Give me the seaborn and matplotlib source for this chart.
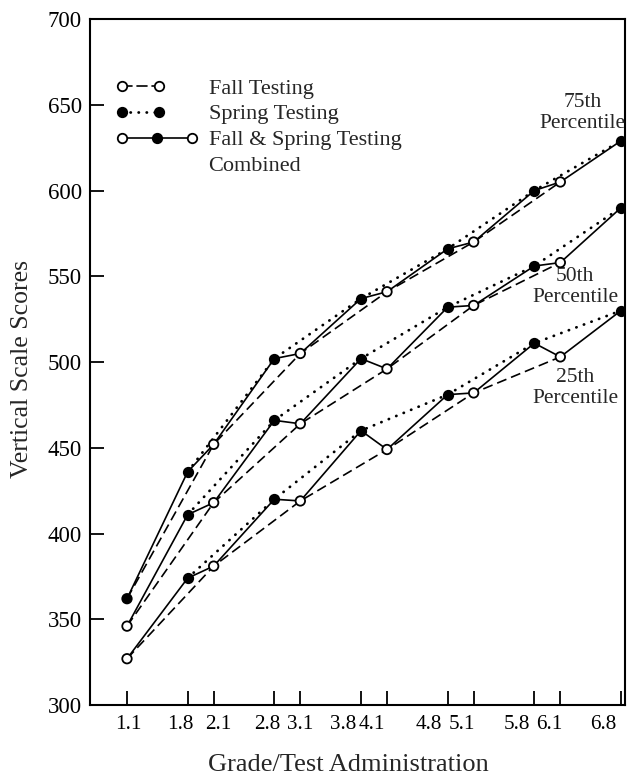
import numpy as np
import pandas as pd
import matplotlib
matplotlib.use("Agg")
import matplotlib.pyplot as plt
import seaborn as sns
from matplotlib.legend_handler import HandlerBase
from matplotlib.lines import Line2D
from matplotlib.transforms import ScaledTranslation

# ---------------- data ----------------
fall_grades = [1.1, 2.1, 3.1, 4.1, 5.1, 6.1]
spring_grades = [1.8, 2.8, 3.8, 4.8, 5.8, 6.8]

fall_p75 = [362, 452, 505, 541, 570, 605]
spring_p75 = [436, 502, 537, 566, 600, 629]
fall_p50 = [346, 418, 464, 496, 533, 558]
spring_p50 = [411, 466, 502, 532, 556, 590]
fall_p25 = [327, 381, 419, 449, 482, 503]
spring_p25 = [374, 420, 460, 481, 511, 530]

# the 75th-percentile grade 1.1 point is printed as a filled dot
fall_p75_filled = [True, False, False, False, False, False]
fall_p50_filled = [False] * 6
fall_p25_filled = [False] * 6

percentile_names = ["75th\nPercentile", "50th\nPercentile", "25th\nPercentile"]
label_x = [6.36, 6.27, 6.27]
label_y = [645.0, 544.0, 485.0]

tick_grades = [1.1, 1.8, 2.1, 2.8, 3.1, 3.8, 4.1, 4.8, 5.1, 5.8, 6.1, 6.8]
tick_labels = ["1.1", "1.8", "2.1", "2.8", "3.1", "3.8", "4.1", "4.8",
               "5.1", "5.8", "6.1", "6.8"]
y_ticks = [300, 350, 400, 450, 500, 550, 600, 650, 700]

legend_labels = ["Fall Testing", "Spring Testing", "Fall & Spring Testing", "Combined"]

# horizontal placement of the printed tick labels relative to their ticks (pixels)
xlabel_shift_px = [1, -7, 5, -7, 0, -18, -15, -19, -12, -17, -11, -18]

# ---------------- style ----------------
sns.set_theme(style="ticks")
plt.rcParams["font.family"] = ["Liberation Serif", "DejaVu Serif"]
plt.rcParams["axes.linewidth"] = 1.5
plt.rcParams["axes.edgecolor"] = "black"

LW = 1.2
MS = 6.8
MEW = 1.3
DASH = (0, (6, 3))
DOT = (0, (0.1, 2.8))

fig = plt.figure(figsize=(6.28, 7.78), dpi=100)
ax = fig.add_axes([0.1433, 0.0938, 0.8519, 0.8817])

groups = [
    (fall_p75, spring_p75, fall_p75_filled),
    (fall_p50, spring_p50, fall_p50_filled),
    (fall_p25, spring_p25, fall_p25_filled),
]

for fall, spring, fall_filled in groups:
    fall_df = pd.DataFrame({"grade": fall_grades, "score": fall})
    spring_df = pd.DataFrame({"grade": spring_grades, "score": spring})
    comb_df = pd.concat([fall_df, spring_df]).sort_values("grade")

    sns.lineplot(data=fall_df, x="grade", y="score", ax=ax, color="black",
                 lw=LW, linestyle=DASH, estimator=None, zorder=2)
    sns.lineplot(data=spring_df, x="grade", y="score", ax=ax, color="black",
                 lw=2.0, linestyle=DOT, dash_capstyle="round", estimator=None, zorder=2)
    sns.lineplot(data=comb_df, x="grade", y="score", ax=ax, color="black",
                 lw=LW, estimator=None, zorder=2)

    faces = ["black" if f else "white" for f in fall_filled]
    ax.scatter(fall_df["grade"], fall_df["score"], s=MS ** 2, marker="o",
               facecolors=faces, edgecolors="black", linewidths=MEW, zorder=4)
    sns.scatterplot(data=spring_df, x="grade", y="score", ax=ax, s=MS ** 2,
                    marker="o", color="black", edgecolor="black", linewidth=MEW, zorder=4)

for name, lx, ly in zip(percentile_names, label_x, label_y):
    ax.text(lx, ly, name, ha="center", va="center", fontsize=15.5,
            linespacing=1.15)

ax.set_xlim(0.673, 6.846)
ax.set_ylim(300, 700)
ax.set_xticks(tick_grades)
ax.set_xticklabels(tick_labels)
ax.set_yticks(y_ticks)
ax.set_yticklabels([str(v) for v in y_ticks])
ax.tick_params(axis="both", direction="in", length=10, width=1.3, colors="black")
ax.tick_params(axis="x", labelsize=15.2, pad=7)
ax.tick_params(axis="y", labelsize=16.5, pad=6)
for s in ax.spines.values():
    s.set_visible(True)
    s.set_linewidth(1.5)
    s.set_color("black")

ax.set_xlabel("Grade/Test Administration", fontsize=19)
ax.set_ylabel("Vertical Scale Scores", fontsize=18.5)
ax.xaxis.set_label_coords(0.483, -0.072)
ax.yaxis.set_label_coords(-0.106, 0.49)


# ---------------- legend ----------------
class KeyHandler(HandlerBase):
    def __init__(self, frac, fills, ls, lw):
        super().__init__()
        self.frac = frac
        self.fills = fills
        self.ls = ls
        self.lw = lw

    def create_artists(self, legend, orig_handle, xdescent, ydescent,
                       width, height, fontsize, trans):
        y = height / 2 - ydescent
        x0 = -xdescent
        x1 = x0 + width * self.frac
        arts = [Line2D([x0, x1], [y, y], color="black", lw=self.lw,
                       linestyle=self.ls, dash_capstyle="round")]
        n = len(self.fills)
        for i, f in enumerate(self.fills):
            xm = x0 + (x1 - x0) * i / (n - 1)
            arts.append(Line2D([xm], [y], marker="o", ms=MS,
                               mfc="black" if f else "white", mec="black",
                               mew=MEW, linestyle="none"))
        for a in arts:
            a.set_transform(trans)
        return arts


h_fall = Line2D([], [], color="black")
h_spring = Line2D([], [], color="black")
h_comb = Line2D([], [], color="black")
h_blank = Line2D([], [], linestyle="none")
ax.legend(
    [h_fall, h_spring, h_comb, h_blank], legend_labels,
    handler_map={
        h_fall: KeyHandler(0.523, [False, False], DASH, LW),
        h_spring: KeyHandler(0.523, [True, True], DOT, 2.0),
        h_comb: KeyHandler(1.0, [False, True, False], "-", LW),
    },
    loc="upper left", bbox_to_anchor=(0.0593, 0.914), frameon=False,
    fontsize=16, handlelength=3.17, handletextpad=0.74, borderpad=0,
    borderaxespad=0, labelspacing=0.24,
)

fig.canvas.draw()
for lab, dx in zip(ax.get_xticklabels(), xlabel_shift_px):
    lab.set_transform(lab.get_transform() +
                      ScaledTranslation(dx / 100.0, 0, fig.dpi_scale_trans))

fig.savefig("out.png", dpi=100)
